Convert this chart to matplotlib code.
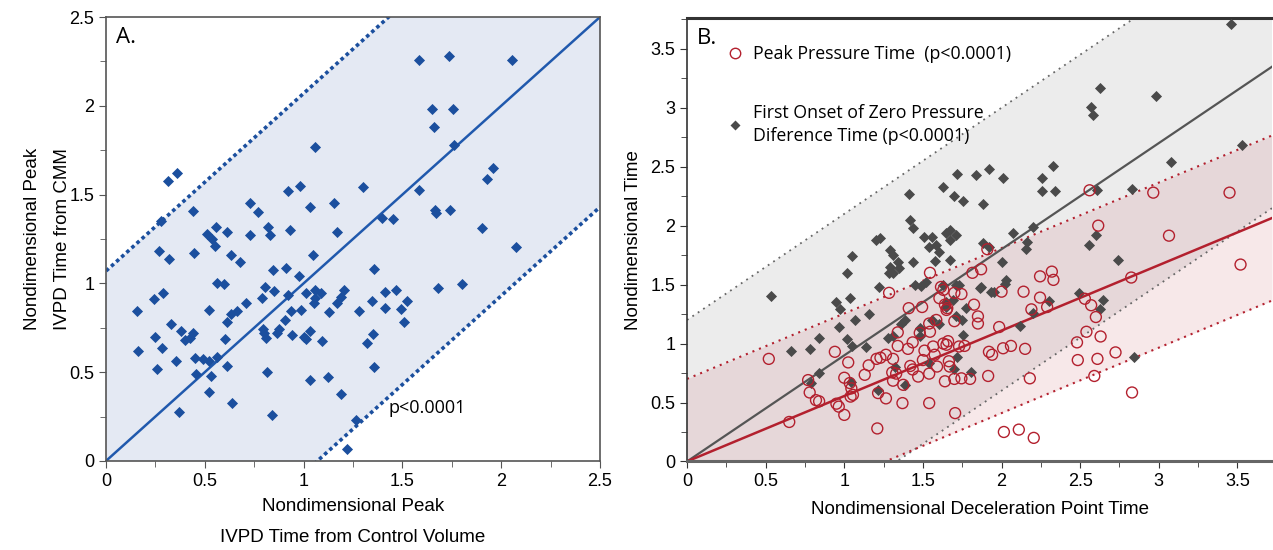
import numpy as np
import matplotlib
matplotlib.use("Agg")
import matplotlib.pyplot as plt
from matplotlib.ticker import MultipleLocator
from matplotlib.lines import Line2D

plt.rcParams['font.family'] = ['Liberation Sans', 'DejaVu Sans']

# ---- panel A data (peak IVPD time, control volume vs CMM) ----
a_x = [1.06, 0.315, 0.36, 0.44, 0.28, 0.73, 0.77, 0.92, 0.98, 1.03, 1.155, 1.30,
       0.557, 0.51, 0.61, 0.535, 0.73, 0.82, 0.83, 0.93, 1.17, 1.395, 1.45, 0.55,
       0.267, 0.32, 0.445, 0.63, 0.68, 1.05, 0.845, 0.91, 0.975, 1.355, 0.56, 0.595,
       0.805, 0.85, 0.92, 1.01, 1.056, 1.09, 1.058, 1.055, 1.205, 1.19, 1.17, 1.41,
       1.47, 1.345, 1.41, 0.243, 0.29, 0.155, 0.52, 0.71, 0.79, 0.63, 0.665, 0.61,
       0.33, 0.38, 0.25, 0.425, 0.40, 0.44, 0.60, 0.935, 0.985, 0.905, 0.795, 0.80,
       0.81, 0.865, 0.875, 0.94, 1.0, 1.01, 1.03, 1.095, 1.13, 1.28, 1.35, 1.32,
       0.16, 0.285, 0.26, 0.355, 0.45, 0.49, 0.52, 0.56, 0.455, 0.53, 0.61, 0.52,
       0.64, 0.37, 0.815, 0.84, 1.03, 1.125, 1.19, 1.355, 1.22, 1.265, 1.585, 1.735,
       2.056, 1.65, 1.755, 1.66, 1.76, 1.585, 1.96, 1.93, 1.665, 1.67, 1.74, 1.905,
       2.075, 1.525, 1.495, 1.51, 1.68, 1.80]
a_y = [1.77, 1.575, 1.62, 1.41, 1.35, 1.45, 1.40, 1.52, 1.55, 1.43, 1.45, 1.54,
       1.315, 1.28, 1.29, 1.25, 1.27, 1.315, 1.27, 1.30, 1.29, 1.37, 1.36, 1.21,
       1.18, 1.14, 1.17, 1.16, 1.12, 1.16, 1.075, 1.085, 1.04, 1.08, 1.0, 0.995,
       0.98, 0.955, 0.935, 0.945, 0.96, 0.945, 0.92, 0.89, 0.96, 0.925, 0.89, 0.95,
       0.965, 0.90, 0.86, 0.91, 0.945, 0.845, 0.85, 0.89, 0.92, 0.825, 0.845, 0.78,
       0.77, 0.73, 0.70, 0.695, 0.68, 0.72, 0.685, 0.845, 0.85, 0.795, 0.745, 0.72,
       0.695, 0.72, 0.745, 0.71, 0.70, 0.685, 0.73, 0.675, 0.84, 0.845, 0.715, 0.665,
       0.62, 0.635, 0.515, 0.565, 0.58, 0.575, 0.56, 0.585, 0.49, 0.48, 0.535, 0.39,
       0.325, 0.275, 0.50, 0.26, 0.455, 0.475, 0.375, 0.53, 0.065, 0.23, 2.26, 2.28,
       2.26, 1.98, 1.98, 1.88, 1.78, 1.525, 1.65, 1.59, 1.415, 1.395, 1.415, 1.31,
       1.205, 0.90, 0.855, 0.78, 0.975, 0.995]
a_fit = (1.0, 0.0)      # slope, intercept
a_band = 1.07           # half width of dotted band
a_ptext = "p<0.0001"

# ---- panel B data ----
b_onset_x = [1.715, 1.84, 1.41, 1.63, 1.70, 1.755, 1.415, 1.435, 1.225, 1.51, 1.56, 1.65,
             1.675, 1.71, 3.46, 2.625, 2.57, 2.58, 2.98, 3.53, 3.08, 2.33, 2.26, 2.26,
             2.34, 1.92, 2.01, 1.88, 2.61, 2.83, 2.07, 2.20, 2.60, 0.533, 0.66, 0.78,
             0.84, 0.84, 0.79, 0.965, 0.95, 0.975, 1.035, 1.015, 1.05, 1.07, 1.155, 1.015,
             1.05, 1.14, 1.04, 1.22, 1.20, 1.29, 1.31, 1.29, 1.34, 1.35, 1.285, 1.31,
             1.435, 1.585, 1.60, 1.54, 1.67, 1.575, 1.67, 1.45, 1.49, 1.52, 1.385, 1.36,
             1.28, 1.31, 1.48, 1.48, 1.56, 1.605, 1.65, 1.69, 1.65, 1.71, 1.75, 1.775,
             1.755, 1.72, 1.70, 1.805, 1.54, 1.32, 1.215, 1.385, 1.625, 1.71, 1.86, 1.88,
             1.92, 2.16, 2.155, 2.555, 2.74, 2.00, 2.03, 2.02, 1.87, 1.935, 1.955, 1.73,
             2.12, 2.20, 2.30, 2.49, 2.645, 2.625, 2.84]
b_onset_y = [2.44, 2.43, 2.27, 2.325, 2.25, 2.21, 2.05, 1.98, 1.895, 1.905, 1.90, 1.935,
             1.96, 1.92, 3.71, 3.17, 3.01, 2.94, 3.10, 2.68, 2.54, 2.51, 2.40, 2.29,
             2.29, 2.48, 2.40, 2.18, 2.30, 2.31, 1.935, 1.99, 1.92, 1.40, 0.94, 0.95,
             1.045, 0.75, 0.665, 1.14, 1.35, 1.29, 1.39, 1.60, 1.74, 1.20, 1.25, 1.04,
             0.975, 0.97, 0.67, 1.48, 1.88, 1.79, 1.75, 1.65, 1.695, 1.64, 1.60, 1.60,
             1.695, 1.835, 1.78, 1.82, 1.88, 1.70, 1.71, 1.50, 1.485, 1.52, 1.20, 1.17,
             1.045, 1.06, 1.13, 1.06, 1.20, 1.17, 1.355, 1.37, 1.31, 1.23, 1.20, 1.30,
             1.075, 0.89, 0.78, 0.76, 0.835, 0.805, 0.61, 0.65, 1.50, 1.50, 1.47, 1.85,
             1.82, 1.865, 1.80, 1.835, 1.71, 1.69, 1.54, 1.505, 1.48, 1.44, 1.44, 1.50,
             1.15, 1.26, 1.36, 1.43, 1.37, 1.29, 0.885]
b_peak_x = [2.56, 2.965, 3.45, 2.615, 3.065, 0.52, 0.65, 0.77, 0.78, 0.82, 0.84, 0.94,
            0.95, 0.965, 1.0, 1.0, 1.025, 1.035, 1.045, 1.055, 1.04, 1.13, 1.155, 1.205,
            1.23, 1.265, 1.215, 1.265, 1.21, 1.285, 1.31, 1.305, 1.31, 1.33, 1.34, 1.34,
            1.37, 1.375, 1.405, 1.435, 1.41, 1.42, 1.435, 1.48, 1.47, 1.495, 1.50, 1.51,
            1.54, 1.545, 1.54, 1.54, 1.545, 1.565, 1.575, 1.59, 1.585, 1.605, 1.615, 1.63,
            1.63, 1.65, 1.66, 1.64, 1.64, 1.65, 1.655, 1.665, 1.67, 1.70, 1.745, 1.70,
            1.70, 1.705, 1.73, 1.765, 1.745, 1.80, 1.815, 1.825, 1.85, 1.85, 3.52, 2.825,
            1.87, 1.91, 2.245, 2.32, 2.33, 2.14, 2.00, 2.245, 1.985, 2.19, 2.29, 2.53,
            2.57, 2.60, 2.54, 2.63, 2.48, 2.485, 2.61, 2.725, 2.59, 2.83, 1.92, 1.94,
            2.01, 2.06, 2.15, 1.915, 2.18, 2.015, 2.11, 2.205]
b_peak_y = [2.30, 2.28, 2.28, 2.00, 1.915, 0.87, 0.335, 0.69, 0.585, 0.52, 0.51, 0.93,
            0.49, 0.465, 0.395, 0.71, 0.84, 0.665, 0.62, 0.565, 0.55, 0.735, 0.815, 0.87,
            0.88, 0.905, 0.58, 0.535, 0.28, 1.43, 0.87, 0.755, 0.685, 0.745, 1.095, 0.98,
            0.495, 0.65, 0.955, 1.01, 1.30, 0.81, 0.78, 1.09, 0.72, 1.31, 0.86, 0.94,
            1.17, 1.10, 0.745, 0.495, 1.60, 0.975, 0.905, 0.805, 1.20, 1.385, 1.48, 1.455,
            1.00, 0.99, 1.02, 0.68, 1.33, 1.285, 1.30, 0.85, 0.805, 1.43, 1.42, 1.19,
            0.70, 0.41, 0.975, 0.98, 0.705, 0.70, 1.60, 1.33, 1.23, 1.17, 1.67, 1.56,
            1.63, 1.80, 1.57, 1.61, 1.54, 1.44, 1.44, 1.39, 1.14, 1.29, 1.31, 1.38,
            1.325, 1.225, 1.10, 1.06, 1.01, 0.86, 0.87, 0.925, 0.725, 0.585, 0.93, 0.905,
            0.96, 0.98, 0.955, 0.725, 0.705, 0.25, 0.27, 0.20]
b_onset_fit = (0.90, 0.0)
b_onset_band = 1.20
b_peak_fit = (0.555, 0.0)
b_peak_band = 0.70
b_labels = ["Peak Pressure Time  (p<0.0001)",
            "First Onset of Zero Pressure\nDiference Time (p<0.0001)"]

blue = '#1b4f9e'
grey_m = '#4a4a4a'
red = '#b3202e'
spine_c = '#555555'
label_font = ['Open Sans', 'DejaVu Sans']

fig = plt.figure(figsize=(12.73, 5.5), dpi=100)
axA = fig.add_axes([0.0833, 0.162, 0.3880, 0.807])
axB = fig.add_axes([0.5397, 0.161, 0.4595, 0.806])

# ---------------- panel A ----------------
xa = np.linspace(0, 2.5, 200)
ya = a_fit[0] * xa + a_fit[1]
axA.fill_between(xa, ya - a_band, ya + a_band, color='#e4e9f3', lw=0, zorder=1)
axA.plot(xa, ya + a_band, color=blue, lw=2.6, ls=(0, (1, 0.9)), zorder=2)
axA.plot(xa, ya - a_band, color=blue, lw=2.6, ls=(0, (1, 0.9)), zorder=2)
axA.plot(xa, ya, color='#2059ad', lw=1.8, zorder=2)
axA.scatter(a_x, a_y, marker='D', s=32, color=blue, lw=0, zorder=3)
axA.set_xlim(0, 2.5)
axA.set_ylim(0, 2.5)
axA.xaxis.set_major_locator(MultipleLocator(0.5))
axA.xaxis.set_minor_locator(MultipleLocator(0.25))
axA.yaxis.set_major_locator(MultipleLocator(0.5))
axA.yaxis.set_minor_locator(MultipleLocator(0.25))
axA.xaxis.set_major_formatter(plt.FuncFormatter(lambda v, p: f"{v:g}"))
axA.yaxis.set_major_formatter(plt.FuncFormatter(lambda v, p: f"{v:g}"))
axA.tick_params(which='both', direction='out', labelsize=13, color=spine_c)
axA.tick_params(which='major', length=5)
axA.tick_params(which='minor', length=4)
for s in axA.spines.values():
    s.set_color(spine_c)
    s.set_linewidth(1.2)
axA.set_xlabel("Nondimensional Peak\nIVPD Time from Control Volume", fontsize=13.5,
               linespacing=2.1, labelpad=6)
axA.set_ylabel("Nondimensional Peak\nIVPD Time from CMM", fontsize=13.5,
               linespacing=2.0, labelpad=-1)
axA.text(0.02, 0.955, "A.", transform=axA.transAxes, fontsize=16,
         family=label_font, va='center')
axA.text(1.43, 0.30, a_ptext, fontsize=13, family=label_font,
         va='center', ha='left')

# ---------------- panel B ----------------
xmaxB = 3.72
ymaxB = 3.76
xb = np.linspace(0, xmaxB, 200)
yo = b_onset_fit[0] * xb + b_onset_fit[1]
yp = b_peak_fit[0] * xb + b_peak_fit[1]
axB.fill_between(xb, yo - b_onset_band, yo + b_onset_band, color='#d6d6d6',
                 alpha=0.45, lw=0, zorder=1)
axB.fill_between(xb, yp - b_peak_band, yp + b_peak_band, color='#c2505c',
                 alpha=0.13, lw=0, zorder=1)
axB.plot(xb, yo + b_onset_band, color='#666666', lw=1.3, ls=(0, (1, 2.6)), zorder=2)
axB.plot(xb, yo - b_onset_band, color='#666666', lw=1.3, ls=(0, (1, 2.6)), zorder=2)
axB.plot(xb, yp + b_peak_band, color=red, lw=1.5, ls=(0, (1, 2.4)), zorder=2)
axB.plot(xb, yp - b_peak_band, color=red, lw=1.5, ls=(0, (1, 2.4)), zorder=2)
axB.plot(xb, yo, color='#555555', lw=1.6, zorder=2)
axB.plot(xb, yp, color=red, lw=1.8, zorder=2)
axB.scatter(b_onset_x, b_onset_y, marker='D', s=32, color=grey_m, lw=0, zorder=3)
axB.scatter(b_peak_x, b_peak_y, marker='o', s=62, facecolor='none',
            edgecolor=red, lw=1.0, zorder=4)
axB.set_xlim(0, xmaxB)
axB.set_ylim(0, ymaxB)
axB.xaxis.set_major_locator(MultipleLocator(0.5))
axB.xaxis.set_minor_locator(MultipleLocator(0.25))
axB.yaxis.set_major_locator(MultipleLocator(0.5))
axB.yaxis.set_minor_locator(MultipleLocator(0.25))
axB.xaxis.set_major_formatter(plt.FuncFormatter(lambda v, p: f"{v:g}"))
axB.yaxis.set_major_formatter(plt.FuncFormatter(lambda v, p: f"{v:g}"))
axB.tick_params(which='both', direction='out', labelsize=13, color='#333333')
axB.tick_params(which='major', length=5)
axB.tick_params(which='minor', length=4)
for name, s in axB.spines.items():
    s.set_color('#333333')
    s.set_linewidth(1.2)
axB.spines['top'].set_linewidth(2.2)
axB.spines['bottom'].set_linewidth(2.2)
axB.spines['bottom'].set_color('#666666')
axB.spines['right'].set_visible(False)
axB.set_xlabel("Nondimensional Deceleration Point Time", fontsize=13.5, labelpad=8)
axB.set_ylabel("Nondimensional Time", fontsize=13.5, labelpad=6)
axB.text(0.017, 0.955, "B.", transform=axB.transAxes, fontsize=16,
         family=label_font, va='center')

handles = [Line2D([], [], ls='none', marker='o', ms=7.5, mfc='none', mec=red, mew=1.0),
           Line2D([], [], ls='none', marker='D', ms=5.5, mfc=grey_m, mec='none')]
leg = axB.legend(handles, b_labels, loc='upper left', bbox_to_anchor=(0.04, 0.975),
                 frameon=False, handletextpad=0.5, labelspacing=2.3,
                 prop={'family': label_font, 'size': 12.8},
                 handlelength=1.0)
for t in leg.get_texts():
    t.set_linespacing(1.35)

fig.savefig('out.png', dpi=100)
